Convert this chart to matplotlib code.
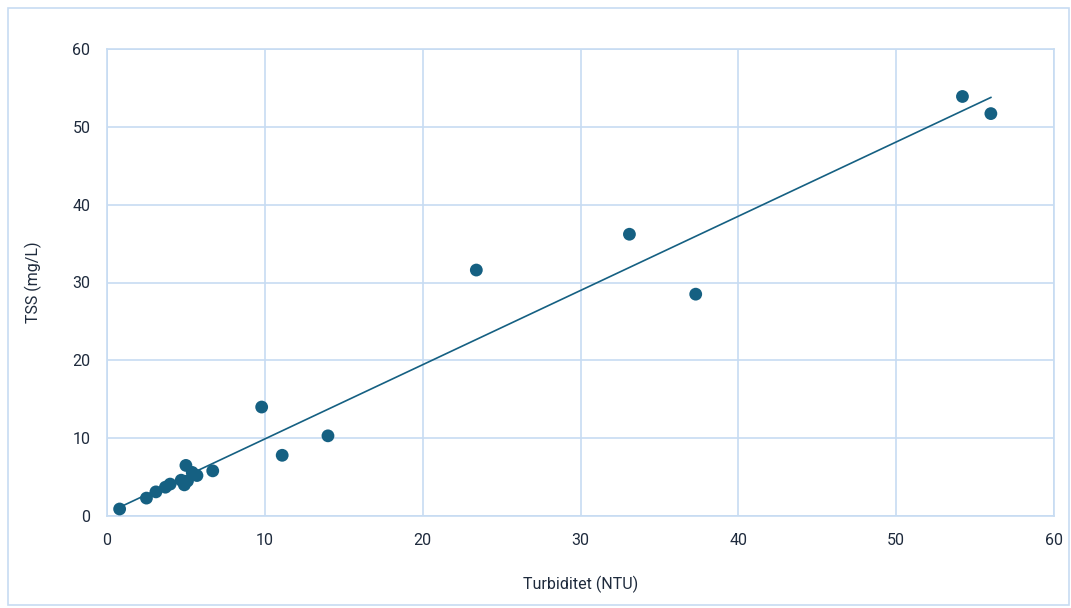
import numpy as np
import matplotlib.pyplot as plt
from matplotlib.patches import Rectangle

plt.rcParams['font.family'] = ['Roboto', 'DejaVu Sans']

# turbidity vs suspended solids samples
turbiditet = [0.8, 2.5, 3.1, 3.7, 4.0, 4.7, 5.0, 4.9, 5.1, 5.4, 5.7, 6.7,
              9.8, 11.1, 14.0, 23.4, 33.1, 37.3, 54.2, 56.0]
tss = [0.9, 2.3, 3.1, 3.7, 4.1, 4.6, 6.5, 4.0, 4.5, 5.6, 5.2, 5.8,
       14.0, 7.8, 10.3, 31.6, 36.2, 28.5, 53.9, 51.7]

ticks = [0, 10, 20, 30, 40, 50, 60]

col = '#156082'
grid = '#c7dcf2'
txt = '#1f2b3d'

fig = plt.figure(figsize=(10.71, 6.08), dpi=100)
fig.patches.append(Rectangle((8/1071, 3/608), 1061/1071, 597/608, transform=fig.transFigure,
                             fill=False, edgecolor=grid, linewidth=1.2))
ax = fig.add_axes([107/1071, 92/608, 947/1071, 467/608])

# linear trendline
k, m = np.polyfit(turbiditet, tss, 1)
xs = np.array([min(turbiditet), max(turbiditet)])
ax.plot(xs, k*xs + m, color=col, linewidth=1.2, zorder=2)

ax.scatter(turbiditet, tss, s=85, color=col, edgecolors='none', zorder=3)

ax.set_xlim(0, 60)
ax.set_ylim(0, 60)
ax.set_xticks(ticks)
ax.set_yticks(ticks)
ax.grid(True, color=grid, linewidth=1.2)
ax.set_axisbelow(True)
for s in ax.spines.values():
    s.set_color(grid)
    s.set_linewidth(1.2)
ax.tick_params(length=0, labelsize=11.5, colors=txt, pad=12)
ax.set_xlabel('Turbiditet (NTU)', fontsize=11.5, color=txt, labelpad=20)
ax.set_ylabel('TSS (mg/L)', fontsize=11.5, color=txt, labelpad=22)

fig.savefig('out.png', dpi=100)
